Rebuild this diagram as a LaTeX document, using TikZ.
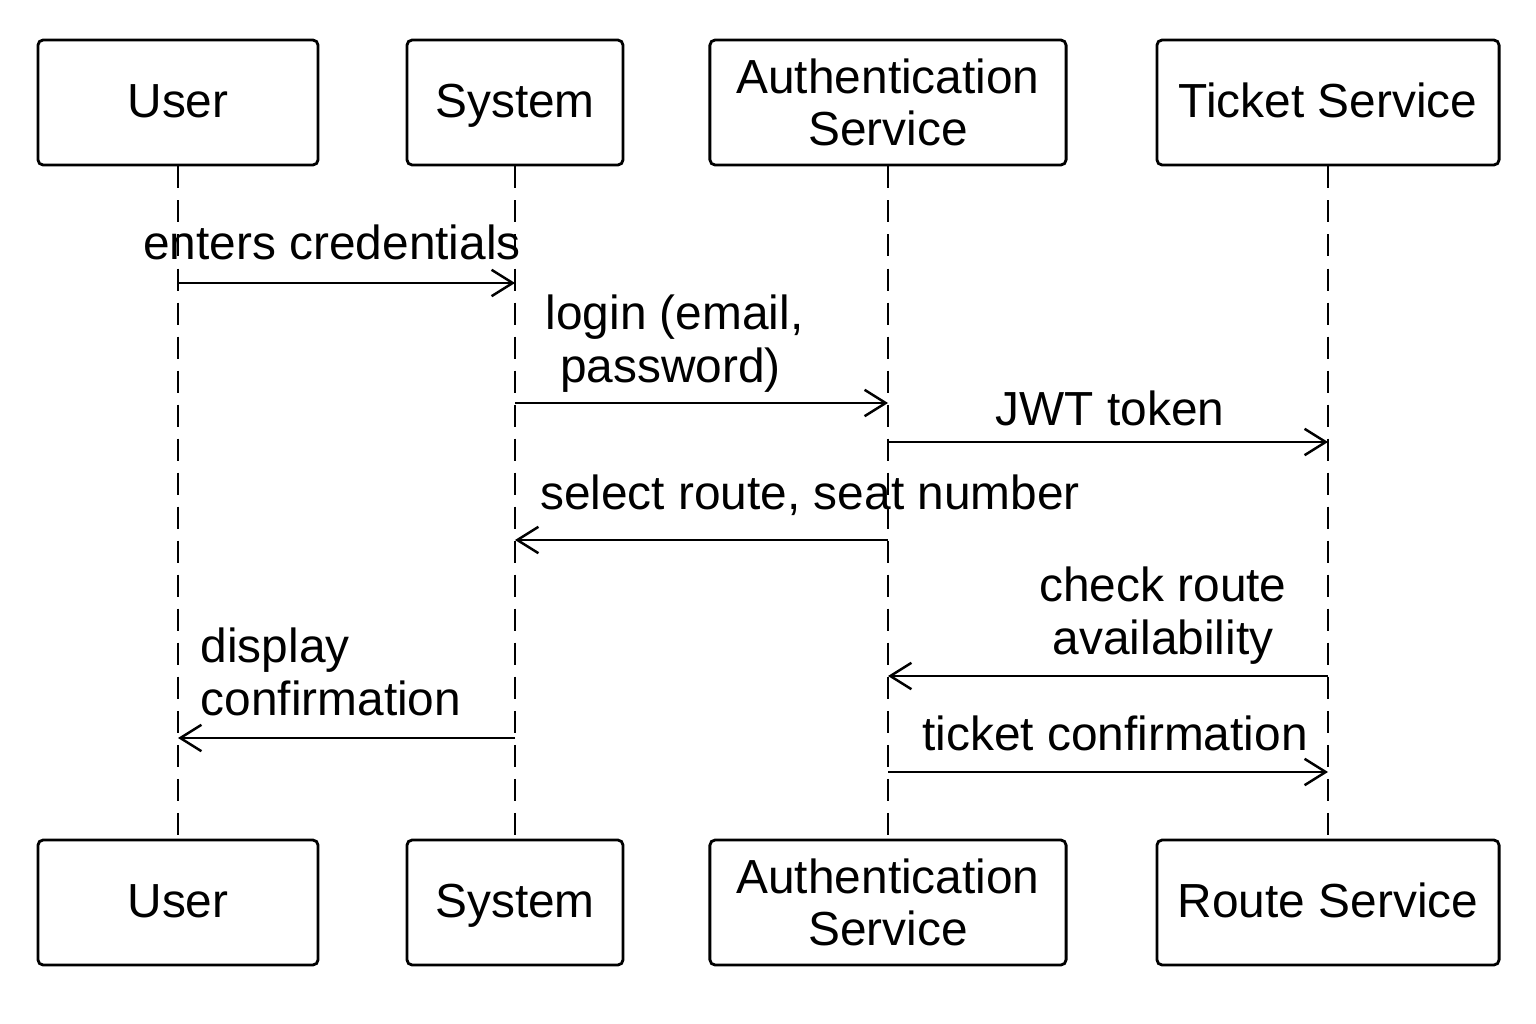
\documentclass[tikz,border=0pt]{standalone}
\usepackage{fontspec}
\setmainfont{Liberation Sans}
\usetikzlibrary{arrows.meta}

\begin{document}
\begin{tikzpicture}[x=0.01cm,y=-0.01cm,>={Straight Barb[length=6pt,width=7.5pt]},
    actor/.style={draw,line width=0.8pt,rounded corners=1.5pt,minimum height=1.25cm,
      font=\fontsize{13.6}{15}\selectfont},
    actor one/.style={actor,text height=0.85em,text depth=0pt},
    actor two/.style={actor,align=center},
    life/.style={line width=0.7pt,dash pattern=on 0.22cm off 0.12cm},
    msg/.style={->,line width=0.7pt},
    lbl/.style={font=\fontsize{13.6}{15}\selectfont,inner sep=0pt}]
    \useasboundingbox (0,0) rectangle (1536,1024);
    % --- participants, top row ---
    \node[actor one,minimum width=2.8cm]  (usrT) at (178,102.5) {User};
    \node[actor one,minimum width=2.16cm] (sysT) at (515,102.5) {System};
    \node[actor two,minimum width=3.56cm] (autT) at (888,102.5) {Authentication\\Service};
    \node[actor one,minimum width=3.42cm] (tktT) at (1328,102.5) {Ticket Service};
    % --- participants, bottom row ---
    \node[actor one,minimum width=2.8cm]  (usrB) at (178,902.5) {User};
    \node[actor one,minimum width=2.16cm] (sysB) at (515,902.5) {System};
    \node[actor two,minimum width=3.56cm] (autB) at (888,902.5) {Authentication\\Service};
    \node[actor one,minimum width=3.42cm] (rteB) at (1328,902.5) {Route Service};
    % --- lifelines ---
    \draw[life] (usrT) -- (usrB);
    \draw[life] (sysT) -- (sysB);
    \draw[life] (autT) -- (autB);
    \draw[life] (tktT) -- (rteB);
    % --- messages ---
    \draw[msg] (usrT |- 0,283) -- (sysT |- 0,283);
    \node[lbl] (m1) at (332,242) {enters credentials};
    \draw[msg] (sysT |- 0,403) -- (autT |- 0,403);
    \node[lbl,align=left,anchor=west] (m2) at (545,344) {login (email,\\\hspace*{0.3em}password)};
    \draw[msg] (autT |- 0,442) -- (tktT |- 0,442);
    \node[lbl] (m3) at (1110,408) {JWT token};
    \draw[msg] (autT |- 0,540) -- (sysT |- 0,540);
    \node[lbl] (m4) at (810,495) {select route, seat number};
    \draw[msg] (tktT |- 0,676) -- (autT |- 0,676);
    \node[lbl,align=center] (m5) at (1163,616) {check route\\availability};
    \draw[msg] (sysT |- 0,738) -- (usrT |- 0,738);
    \node[lbl,align=left,anchor=west] (m6) at (200,672) {display\\confirmation};
    \draw[msg] (autT |- 0,772) -- (tktT |- 0,772);
    \node[lbl] (m7) at (1115,733) {ticket confirmation};
\end{tikzpicture}
\end{document}
